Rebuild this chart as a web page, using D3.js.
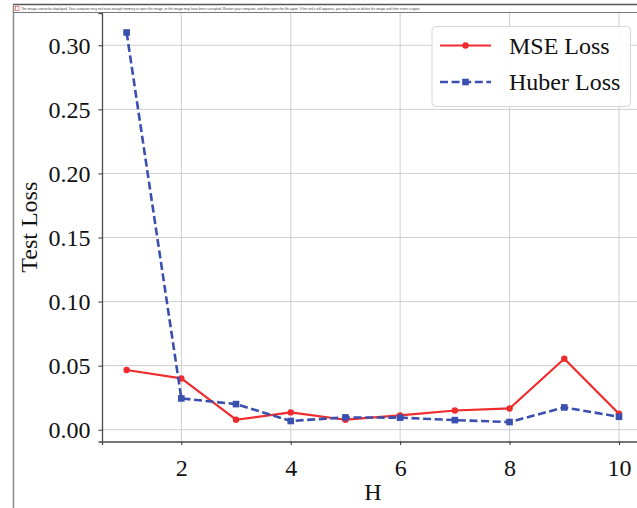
<!DOCTYPE html>
<html>
<head>
<meta charset="utf-8">
<script src="https://cdn.jsdelivr.net/npm/d3@7"></script>
<style>
  html, body { margin: 0; padding: 0; background: #fff; }
  svg { display: block; }
</style>
</head>
<body>
<svg id="chart" width="637" height="508"></svg>
<script>
// Test loss per horizon H for the two training losses
const horizons = [1, 2, 3, 4, 5, 6, 7, 8, 9, 10];
const mseLoss = [0.0466, 0.0400, 0.0078, 0.0135, 0.0078, 0.0112, 0.0150, 0.0166, 0.0554, 0.0125];
const huberLoss = [0.3100, 0.0244, 0.0200, 0.0068, 0.0096, 0.0094, 0.0075, 0.0060, 0.0174, 0.0101];
const xTicks = [2, 4, 6, 8, 10];
const yTicks = [0.00, 0.05, 0.10, 0.15, 0.20, 0.25, 0.30];
const seriesNames = ["MSE Loss", "Huber Loss"];
const notice = "The image cannot be displayed. Your computer may not have enough memory to open the image, or the image may have been corrupted. Restart your computer, and then open the file again. If the red x still appears, you may have to delete the image and then insert it again.";

const svg = d3.select("#chart");
const serif = "'Liberation Serif', 'Times New Roman', serif";
const red = "#ef2b2d";
const blue = "#3a4fae";

const plotL = 102, plotR = 643.6, plotT = 13, plotB = 441.5;

// axis limits with 5% padding around the data
const allVals = mseLoss.concat(huberLoss);
const yMin = d3.min(allVals), yMax = d3.max(allVals);
const yPad = (yMax - yMin) * 0.05;
const xPad = (d3.max(horizons) - d3.min(horizons)) * 0.05;

const x = d3.scaleLinear()
  .domain([d3.min(horizons) - xPad, d3.max(horizons) + xPad])
  .range([plotL, plotR]);
const y = d3.scaleLinear()
  .domain([yMin - yPad, yMax + yPad])
  .range([plotB, plotT]);

// grid
const grid = svg.append("g");
grid.selectAll("line.gx").data(xTicks).join("line")
  .attr("x1", d => x(d)).attr("x2", d => x(d))
  .attr("y1", plotT).attr("y2", plotB)
  .attr("stroke", "#cfcfcf").attr("stroke-width", 1);
grid.selectAll("line.gy").data(yTicks).join("line")
  .attr("x1", plotL).attr("x2", plotR)
  .attr("y1", d => y(d)).attr("y2", d => y(d))
  .attr("stroke", "#cfcfcf").attr("stroke-width", 1);

// axes
const xAxis = svg.append("g")
  .attr("transform", `translate(0,${plotB})`)
  .call(d3.axisBottom(x).tickValues(xTicks).tickSize(3.5).tickPadding(14).tickFormat(d3.format("d")));
const yAxis = svg.append("g")
  .attr("transform", `translate(${plotL},0)`)
  .call(d3.axisLeft(y).tickValues(yTicks).tickSize(3.5).tickPadding(8).tickFormat(d3.format(".2f")));

[xAxis, yAxis].forEach(a => {
  a.select(".domain").attr("stroke", "#4a4a4a").attr("stroke-width", 1.3);
  a.selectAll(".tick line").attr("stroke", "#333").attr("stroke-width", 1);
  a.selectAll(".tick text")
    .attr("font-family", serif).attr("font-size", 24).attr("fill", "#111");
});
xAxis.selectAll(".tick text").attr("dy", "0.71em");
yAxis.selectAll(".tick text").attr("dy", "0.34em");

// axis titles
svg.append("text")
  .attr("x", (plotL + plotR) / 2).attr("y", 500)
  .attr("text-anchor", "middle")
  .attr("font-family", serif).attr("font-size", 24).attr("fill", "#111")
  .text("H");
svg.append("text")
  .attr("transform", `translate(37,${(plotT + plotB) / 2}) rotate(-90)`)
  .attr("text-anchor", "middle")
  .attr("font-family", serif).attr("font-size", 24).attr("fill", "#111")
  .text("Test Loss");

// series
const line = d3.line().x(d => x(d[0])).y(d => y(d[1]));
const mseData = d3.zip(horizons, mseLoss);
const huberData = d3.zip(horizons, huberLoss);

svg.append("path").datum(mseData)
  .attr("d", line).attr("fill", "none")
  .attr("stroke", red).attr("stroke-width", 2.2).attr("stroke-linejoin", "round");
svg.selectAll("circle.mse").data(mseData).join("circle")
  .attr("cx", d => x(d[0])).attr("cy", d => y(d[1])).attr("r", 3.2)
  .attr("fill", red);

svg.append("path").datum(huberData)
  .attr("d", line).attr("fill", "none")
  .attr("stroke", blue).attr("stroke-width", 2.6)
  .attr("stroke-dasharray", "8,3.6");
svg.selectAll("rect.huber").data(huberData).join("rect")
  .attr("x", d => x(d[0]) - 3.3).attr("y", d => y(d[1]) - 3.3)
  .attr("width", 6.6).attr("height", 6.6)
  .attr("fill", blue);

// legend
const lg = svg.append("g");
lg.append("rect")
  .attr("x", 432).attr("y", 26.5).attr("width", 198.5).attr("height", 80)
  .attr("rx", 4).attr("fill", "#fff").attr("fill-opacity", 0.9)
  .attr("stroke", "#d6d6d6").attr("stroke-width", 1);
const legendRows = [
  { name: seriesNames[0], color: red, dash: null, shape: "circle", yy: 45.5, w: 2.2 },
  { name: seriesNames[1], color: blue, dash: "8,3.6", shape: "rect", yy: 82, w: 2.6 }
];
legendRows.forEach(r => {
  lg.append("line")
    .attr("x1", 440).attr("x2", 491).attr("y1", r.yy).attr("y2", r.yy)
    .attr("stroke", r.color).attr("stroke-width", r.w)
    .attr("stroke-dasharray", r.dash);
  if (r.shape === "circle") {
    lg.append("circle").attr("cx", 465.5).attr("cy", r.yy).attr("r", 3.2).attr("fill", r.color);
  } else {
    lg.append("rect").attr("x", 462.2).attr("y", r.yy - 3.3).attr("width", 6.6).attr("height", 6.6).attr("fill", r.color);
  }
  lg.append("text")
    .attr("x", 509).attr("y", r.yy).attr("dy", "0.34em")
    .attr("font-family", serif).attr("font-size", 24).attr("fill", "#111")
    .text(r.name);
});

// surrounding frame and notice strip
svg.append("rect").attr("x", 0).attr("y", 0).attr("width", 637).attr("height", 12).attr("fill", "#fff");
svg.append("line").attr("x1", 13).attr("x2", 637).attr("y1", 4.5).attr("y2", 4.5)
  .attr("stroke", "#555").attr("stroke-width", 1.5);
svg.append("line").attr("x1", 13).attr("x2", 637).attr("y1", 12.5).attr("y2", 12.5)
  .attr("stroke", "#777").attr("stroke-width", 1);
svg.append("line").attr("x1", 13.5).attr("x2", 13.5).attr("y1", 4).attr("y2", 508)
  .attr("stroke", "#888").attr("stroke-width", 1.5);
// broken-image icon
svg.append("rect").attr("x", 15.5).attr("y", 6.3).attr("width", 3.5).attr("height", 4)
  .attr("fill", "#fff").attr("stroke", "#d44").attr("stroke-width", 0.6);
svg.append("text")
  .attr("x", 21).attr("y", 10)
  .attr("font-family", "'Liberation Sans', Arial, sans-serif").attr("font-size", 3.3)
  .attr("fill", "#444")
  .text(notice);
</script>
</body>
</html>
